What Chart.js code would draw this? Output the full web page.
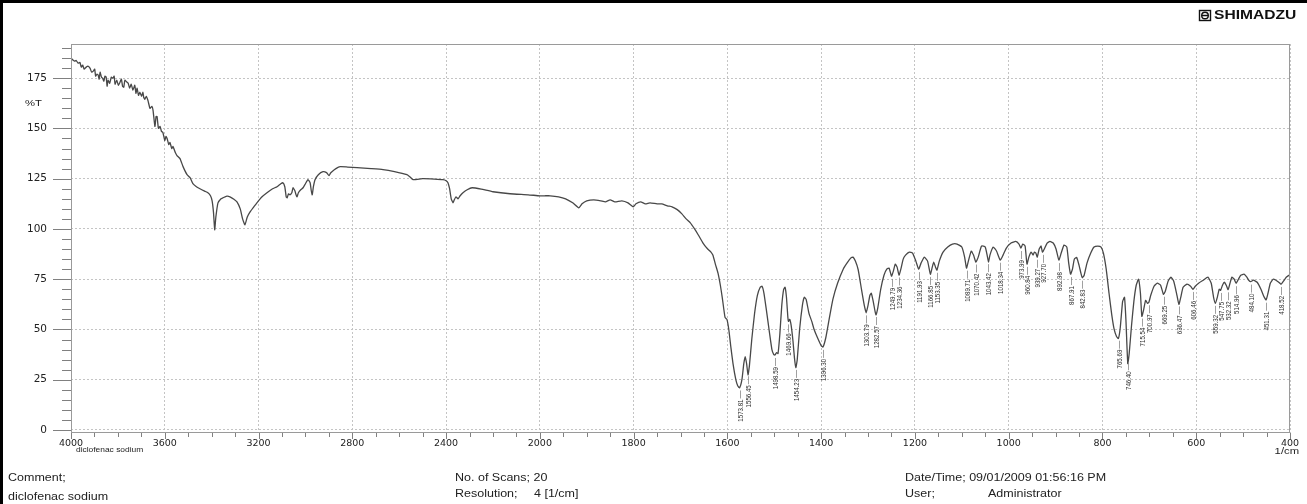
<!DOCTYPE html>
<html>
<head>
<meta charset="utf-8">
<script src="https://cdn.jsdelivr.net/npm/chart.js@4.4.0/dist/chart.umd.min.js"></script>
<style>
  html, body { margin: 0; padding: 0; background: #fff; }
  #wrap { position: relative; width: 1307px; height: 504px; }
</style>
</head>
<body>
<div id="wrap"><canvas id="spectrum" width="1307" height="504"></canvas></div>
<script>
// IR spectrum, diclofenac sodium (wavenumber in 1/cm, %T)
const wavenumbers = [
  4000, 3992, 3985, 3978, 3970, 3962, 3956, 3950, 3944, 3935, 3928, 3919, 3912, 3905, 3899, 3895,
  3889, 3884, 3880, 3876, 3870, 3865, 3860, 3855, 3850, 3846, 3842, 3835, 3828, 3821, 3816, 3812,
  3805, 3798, 3791, 3785, 3780, 3775, 3770, 3761, 3756, 3750, 3743, 3736, 3728, 3723, 3718, 3712,
  3706, 3699, 3693, 3690, 3685, 3679, 3672,
  3663, 3655, 3650, 3642, 3637, 3633, 3627, 3620, 3614, 3608, 3600,
  3595, 3590, 3583, 3578, 3570, 3565, 3555, 3548, 3535, 3522, 3505, 3492, 3480, 3465, 3450, 3430,
  3416, 3405, 3398, 3392, 3387, 3382, 3373, 3360, 3352, 3335, 3322, 3305, 3292, 3278, 3268, 3258,
  3248, 3236, 3220, 3207, 3185, 3164, 3140, 3121, 3105, 3096, 3088, 3082, 3078, 3072, 3066, 3058,
  3053, 3045, 3040, 3036, 3030, 3020, 3010, 3000, 2989, 2980, 2975, 2971, 2966, 2959, 2945, 2925,
  2910, 2899, 2893, 2887, 2870, 2852, 2820, 2780, 2720, 2669, 2620, 2567, 2555, 2541, 2500, 2450,
  2413, 2400, 2392, 2385, 2378, 2370, 2365, 2358, 2349, 2340, 2328, 2310, 2289, 2250, 2200, 2127,
  2050, 2000, 1990, 1978, 1960, 1945, 1930, 1917, 1910, 1900, 1885, 1870, 1860, 1850, 1840, 1825,
  1812, 1801, 1795, 1785, 1775, 1765, 1750, 1740, 1728, 1718, 1707, 1697, 1688, 1679, 1670, 1662,
  1652, 1642, 1635, 1631, 1625, 1620, 1615, 1611, 1605, 1601, 1597, 1593, 1588, 1582, 1578, 1574,
  1569, 1565, 1562, 1559, 1556, 1553, 1548, 1542, 1536, 1530, 1526, 1522, 1517, 1510, 1505, 1501,
  1498.6, 1495, 1492, 1488, 1484, 1480, 1477, 1474, 1471, 1469.7, 1467, 1464, 1460, 1457, 1454, 1451,
  1446, 1440, 1436, 1432, 1426, 1420, 1415, 1408, 1400, 1396, 1390, 1383, 1375, 1365, 1353, 1345,
  1337, 1332, 1327, 1321, 1314, 1308, 1304, 1300, 1296, 1293, 1289, 1285, 1283, 1279, 1273, 1266,
  1260, 1255, 1250, 1246, 1242, 1238, 1234, 1230, 1225, 1220, 1212, 1205, 1198, 1192, 1187, 1180,
  1173, 1167, 1163, 1160, 1156, 1153, 1148, 1140, 1130, 1120, 1110, 1100, 1094, 1090, 1086, 1080,
  1075, 1070, 1065, 1058, 1050, 1046, 1043, 1040, 1033, 1026, 1018, 1012, 1005, 995, 985, 978,
  974, 970, 965, 961, 957, 952, 948, 945, 942, 939, 935, 931, 928, 924, 918, 912,
  905, 899, 893, 888, 882, 876, 872, 868, 864, 860, 855, 850, 846, 843, 839, 833,
  825, 818, 810, 803, 798, 792, 786, 780, 775, 770, 766, 762, 757, 753, 750, 746,
  743, 738, 733, 728, 723, 719, 716, 712, 708, 704, 701, 697, 690, 683, 676, 670,
  666, 660, 654, 648, 642, 637, 633, 628, 620, 612, 607, 602, 595, 585, 575, 568,
  563, 559, 555, 551, 548, 544, 540, 536, 532, 528, 524, 519, 515, 510, 505, 498,
  492, 488, 484, 478, 470, 462, 456, 451, 447, 442, 436, 430, 424, 419, 414, 408,
  402, 400
];
const transmittance = [
  185, 184, 183.5, 183.8, 182.5, 182.8, 180.5, 181.5, 179.5, 180.5, 181, 180, 178, 178.5, 179.5, 176,
  177, 176.5, 174.5, 178, 175.5, 175, 173.5, 176, 175.5, 171, 174, 172.5, 175.5, 175, 176, 172,
  174, 171.5, 173, 174.5, 171, 170.5, 174, 173, 172.5, 170, 172, 169, 171.5, 167.5, 170, 166.5,
  168, 166, 168, 165.5, 164.5, 166, 164,
  160, 161, 159, 151, 156, 156, 150, 151, 148.5, 148, 144,
  146, 145, 142, 143, 140, 141, 138, 136.5, 135, 131, 127, 125.5, 122.5, 121, 120, 118.8,
  118, 116.5, 114, 108, 99.6, 106, 113, 115, 115.5, 116.3, 116, 114.8, 113.5, 110, 105, 102,
  106, 108.5, 111, 113, 116, 118, 120, 121, 122.5, 123, 121, 116, 115.5, 117.5, 117, 118,
  120.5, 119, 117, 116, 118, 119.5, 120.5, 122.5, 124.5, 123, 119, 117, 121, 124.5, 127, 128.5,
  128, 126.5, 127.8, 128.5, 130, 131, 130.8, 130.5, 130, 129.5, 128.5, 127, 126, 124.5, 125, 124.8,
  124.5, 124, 123, 120, 115, 113, 114.5, 116, 115, 116.5, 118, 119.5, 120.5, 119.8, 118.5, 117.5,
  117, 116.5, 116.5, 116.5, 116, 115, 113, 110.5, 112.5, 114, 114.5, 114, 113.5, 114.5, 113.5, 114,
  113, 111, 112.5, 113.5, 112.5, 113, 112.5, 112.5, 111.5, 111, 109.6, 107.5, 105, 103, 100, 97,
  93, 90, 88.5, 87, 82, 78, 72, 66, 56, 55, 50, 42, 33, 25, 22, 21,
  25, 33, 36.5, 33, 27.4, 32, 45, 58, 67, 71, 71.5, 68, 60, 48, 40, 37.5,
  37.3, 38.5, 38, 48, 62, 70, 71, 66, 56, 54, 55, 52, 44, 36, 31, 35,
  50, 62, 66, 65, 58, 54, 50, 46, 42, 41.3, 46, 55, 65, 73, 80, 83,
  85.5, 86, 84, 79.7, 70, 62, 58.3, 62, 67, 68, 64, 59, 57.3, 61, 70, 77,
  80, 80.5, 76.5, 79, 82.5, 81, 77, 80, 85, 87, 88.5, 88, 84, 80, 83, 86,
  84, 77.5, 81, 83.5, 81, 79.5, 84, 88.5, 91, 92.5, 92.5, 91, 86, 80.5, 84, 89,
  87, 83.5, 86, 91.5, 91, 87, 83.5, 87, 91, 89, 84.5, 87, 90.5, 93, 93.8, 92.5,
  90.5, 92.5, 91.5, 82.5, 86, 88.5, 87, 88.5, 88, 86, 90, 91.5, 88.5, 90, 93, 93.8,
  93, 90, 84.5, 88, 92, 91, 83, 77.5, 80, 85, 85.8, 82, 78, 75.7, 77, 83,
  88, 91, 91.5, 91, 88, 80, 68, 57, 50, 46.5, 45.5, 51, 64, 66, 55, 33,
  38, 52, 64, 72, 75, 68, 56.5, 60, 64.5, 63, 63.5, 67, 71.5, 73, 72, 67.5,
  69, 74, 76, 74, 68, 62.5, 66, 71, 72.5, 71.5, 70, 71.5, 73, 74.5, 76, 73,
  66, 63, 66, 70, 69.5, 72, 73.5, 72, 69.8, 73, 76, 75, 73, 75, 77, 77.5,
  76, 74.5, 73.8, 74.5, 73.5, 70, 66.5, 64.7, 68, 73, 75, 74.5, 73.5, 72.5, 74, 76,
  77, 77.5
];
const peakLabels = [
  1573.81, 1556.45, 1498.59, 1469.66, 1454.23, 1396.30, 1303.79, 1282.57, 1249.79, 1234.36,
  1191.93, 1166.85, 1153.35, 1089.71, 1070.42, 1043.42, 1018.34, 973.99, 960.84, 939.27,
  927.70, 892.98, 867.91, 842.83, 765.69, 746.40, 715.54, 700.97, 669.25, 636.47,
  606.46, 559.32, 547.75, 532.32, 514.96, 484.10, 451.31, 418.52
];
const xTicks = [4000, 3600, 3200, 2800, 2400, 2000, 1800, 1600, 1400, 1200, 1000, 800, 600, 400];
const yTicks = [0, 25, 50, 75, 100, 125, 150, 175];

const WN_HI = 4000, WN_BREAK = 2000, WN_LO = 400;
const SX = 1.25; // the scan is a bit wider than it is tall

// Shimadzu charts compress the range above 2000 1/cm to half scale
function axisUnits(v) {
  return v >= WN_BREAK ? (WN_HI - v) / 400 : (WN_HI - WN_BREAK) / 400 + (WN_BREAK - v) / 200;
}

class IrScale extends Chart.LinearScale {
  buildTicks() {
    return xTicks.map(v => ({ value: v }));
  }
  getPixelForValue(v) {
    return this.getPixelForDecimal(axisUnits(v) / axisUnits(WN_LO));
  }
  getValueForPixel(p) {
    const u = this.getDecimalForPixel(p) * axisUnits(WN_LO);
    const u0 = axisUnits(WN_BREAK);
    return u <= u0 ? WN_HI - u * 400 : WN_BREAK - (u - u0) * 200;
  }
}
IrScale.id = 'irBreak';
IrScale.defaults = Chart.LinearScale.defaults;
Chart.register(IrScale);

function valueAt(w) {
  for (let i = 0; i < wavenumbers.length - 1; i++) {
    const a = wavenumbers[i], b = wavenumbers[i + 1];
    if (w <= a && w >= b) {
      const t = a === b ? 0 : (a - w) / (a - b);
      return transmittance[i] + t * (transmittance[i + 1] - transmittance[i]);
    }
  }
  return transmittance[transmittance.length - 1];
}

function stretchText(ctx, str, x, y, size, opts = {}) {
  ctx.save();
  ctx.translate(x, y);
  ctx.scale(opts.sx || SX, 1);
  ctx.font = (opts.bold ? 'bold ' : '') + size + 'px "Liberation Sans", Arial, sans-serif';
  ctx.textAlign = opts.align || 'left';
  ctx.textBaseline = 'middle';
  ctx.fillStyle = opts.color || '#222';
  ctx.fillText(str, 0, 0);
  ctx.restore();
}

const peakPlugin = {
  id: 'peakLabels',
  afterDatasetsDraw(chart) {
    const { ctx, scales: { x, y } } = chart;
    ctx.save();
    ctx.strokeStyle = '#888';
    ctx.lineWidth = 0.8;
    ctx.fillStyle = '#333';
    ctx.font = '7.5px "Liberation Sans", Arial, sans-serif';
    peakLabels.forEach(w => {
      const px = Math.round(x.getPixelForValue(w)) + 0.5;
      const py = y.getPixelForValue(valueAt(w));
      ctx.beginPath();
      ctx.moveTo(px, py + 3);
      ctx.lineTo(px, py + 11);
      ctx.stroke();
      ctx.save();
      ctx.translate(px, py + 12);
      ctx.rotate(-Math.PI / 2);
      ctx.scale(0.82, 1);
      ctx.textAlign = 'right';
      ctx.textBaseline = 'middle';
      ctx.fillText(w.toFixed(2), 0, 0);
      ctx.restore();
    });
    ctx.restore();
  }
};

const paperPlugin = {
  id: 'paper',
  afterDraw(chart) {
    const { ctx, chartArea: a, scales: { x, y } } = chart;
    ctx.save();

    // plot frame
    ctx.strokeStyle = '#9a9a9a';
    ctx.lineWidth = 1;
    ctx.strokeRect(a.left + 0.5, a.top + 0.5, a.right - a.left - 1, a.bottom - a.top - 1);

    // tick marks, major and minor
    ctx.strokeStyle = '#808080';
    ctx.beginPath();
    for (let v = 0; v <= 190; v += 5) {
      const py = Math.round(y.getPixelForValue(v)) + 0.5;
      const len = v % 25 === 0 ? 18 : 9;
      ctx.moveTo(a.left - len, py);
      ctx.lineTo(a.left, py);
    }
    const xMinor = [];
    for (let v = WN_HI; v > WN_BREAK; v -= 100) xMinor.push(v);
    for (let v = WN_BREAK; v >= WN_LO; v -= 50) xMinor.push(v);
    xMinor.forEach(v => {
      const px = Math.round(x.getPixelForValue(v)) + 0.5;
      const len = xTicks.includes(v) ? 6 : 4;
      ctx.moveTo(px, a.bottom);
      ctx.lineTo(px, a.bottom + len);
    });
    ctx.stroke();

    // page border of the printout
    ctx.fillStyle = '#000';
    ctx.fillRect(0, 0, 1307, 3);
    ctx.fillRect(0, 0, 3, 504);

    // maker logo
    ctx.lineWidth = 1.4;
    ctx.strokeStyle = '#111';
    ctx.strokeRect(1199.5, 10.5, 11, 10);
    ctx.beginPath();
    ctx.arc(1205, 15.5, 3.3, 0, Math.PI * 2);
    ctx.moveTo(1201.7, 15.5);
    ctx.lineTo(1208.3, 15.5);
    ctx.stroke();
    stretchText(ctx, 'SHIMADZU', 1214, 15.5, 12, { bold: true, sx: 1.3, color: '#111' });

    // axis captions
    stretchText(ctx, '%T', 25, 104, 9);
    stretchText(ctx, 'diclofenac sodium', 76, 450, 7, { sx: 1.2 });
    stretchText(ctx, '1/cm', 1299, 452, 9, { align: 'right' });

    // footer
    stretchText(ctx, 'Comment;', 8, 478, 10);
    stretchText(ctx, 'diclofenac sodium', 8, 497, 10);
    stretchText(ctx, 'No. of Scans; 20', 455, 478, 10);
    stretchText(ctx, 'Resolution;', 455, 494, 10);
    stretchText(ctx, '4 [1/cm]', 534, 494, 10);
    stretchText(ctx, 'Date/Time; 09/01/2009 01:56:16 PM', 905, 478, 10);
    stretchText(ctx, 'User;', 905, 494, 10);
    stretchText(ctx, 'Administrator', 988, 494, 10);

    ctx.restore();
  }
};

const gridColor = '#c4c4c4';

new Chart(document.getElementById('spectrum'), {
  type: 'line',
  data: {
    datasets: [{
      data: wavenumbers.map((w, i) => ({ x: w, y: transmittance[i] })),
      borderColor: '#484848',
      borderWidth: 1.3,
      pointRadius: 0,
      tension: 0.15,
      fill: false
    }]
  },
  options: {
    responsive: false,
    animation: false,
    devicePixelRatio: 1,
    events: [],
    layout: { padding: { top: 44, right: 17, left: 0, bottom: 0 } },
    plugins: { legend: { display: false }, tooltip: { enabled: false } },
    scales: {
      x: {
        type: 'irBreak',
        min: WN_LO,
        max: WN_HI,
        afterFit(s) { s.height = 71; },
        grid: { color: gridColor, drawTicks: false, lineWidth: 1 },
        border: { display: false, dash: [2, 2] },
        ticks: {
          autoSkip: false,
          maxRotation: 0,
          padding: 5,
          color: '#222',
          font: { family: '"DejaVu Sans", sans-serif', size: 9.5 },
          callback: v => String(v)
        }
      },
      y: {
        min: -1.5,
        max: 192,
        afterBuildTicks(s) { s.ticks = yTicks.map(v => ({ value: v })); },
        afterFit(s) { s.width = 71; },
        grid: { color: gridColor, drawTicks: false, lineWidth: 1 },
        border: { display: false, dash: [2, 2] },
        ticks: {
          padding: 24,
          color: '#222',
          font: { family: '"DejaVu Sans", sans-serif', size: 10.5 }
        }
      }
    }
  },
  plugins: [peakPlugin, paperPlugin]
});
</script>
</body>
</html>
